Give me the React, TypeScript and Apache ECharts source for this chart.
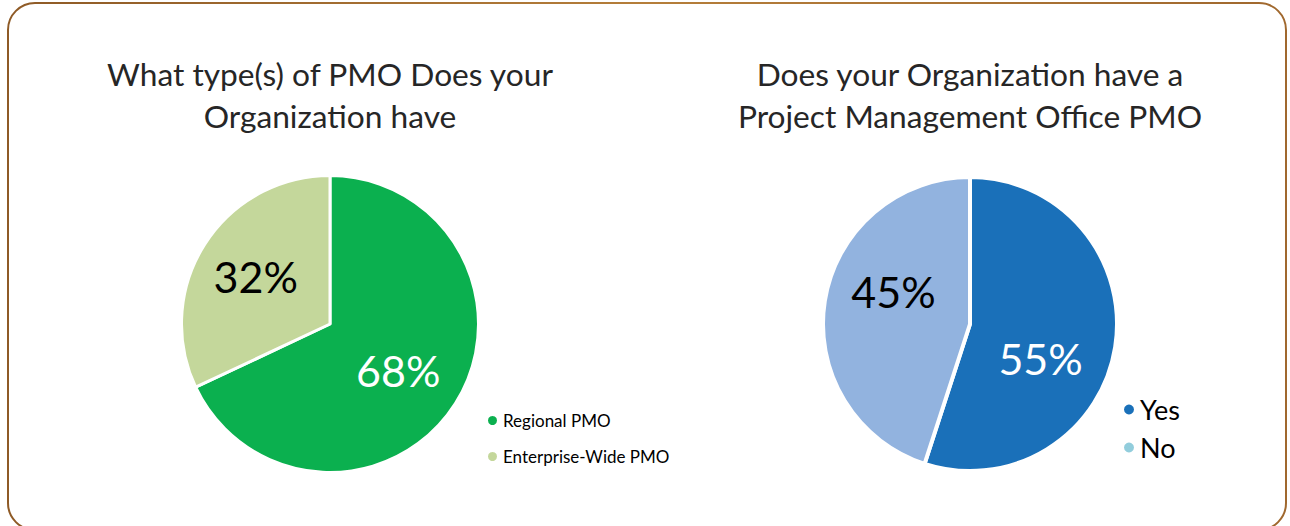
import React, { useEffect, useRef } from "react";
import * as echarts from "echarts";

const leftTitle = "What type(s) of PMO Does your\nOrganization have";
const rightTitle = "Does your Organization have a\nProject Management Office PMO";
const typeNames = ["Regional PMO", "Enterprise-Wide PMO"];
const typeValues = [68, 32];
const hasNames = ["Yes", "No"];
const hasValues = [55, 45];

const FONT = "Lato, 'Open Sans', sans-serif";

export default function App() {
  const ref = useRef<HTMLDivElement>(null);
  useEffect(() => {
    document.body.style.margin = "0";
    const chart = echarts.init(ref.current!, undefined, { renderer: "svg" });
    const typeColors = ["#0BB04F", "#C4D79B"];
    const hasColors = ["#1A70B9", "#92B3DF"];
    const hasLegendColors = ["#1A70B9", "#92CDDC"];
    const typeLabelColors = ["#ffffff", "#000000"];
    const hasLabelColors = ["#ffffff", "#000000"];
    const typeOffsets = [
      [3, 5],
      [-9, -6],
    ];
    const hasOffsets = [
      [-5, 23],
      [-1, -21],
    ];
    chart.setOption({
      animation: false,
      backgroundColor: "#ffffff",
      title: [
        {
          text: leftTitle,
          left: 325,
          top: 48,
          textAlign: "center",
          textStyle: { fontFamily: FONT, fontSize: 31.7, fontWeight: "normal", color: "#262626", lineHeight: 42 },
        },
        {
          text: rightTitle,
          left: 965,
          top: 48,
          textAlign: "center",
          textStyle: { fontFamily: FONT, fontSize: 31.7, fontWeight: "normal", color: "#262626", lineHeight: 42 },
        },
      ],
      legend: [
        {
          orient: "vertical",
          left: 481,
          top: 407,
          icon: "circle",
          itemWidth: 11,
          itemHeight: 11,
          itemGap: 19,
          textStyle: { fontFamily: FONT, fontSize: 17, color: "#000" },
          data: typeNames.map((n, i) => ({ name: n, itemStyle: { color: typeColors[i] } })),
        },
        {
          orient: "vertical",
          left: 1117,
          top: 391,
          icon: "circle",
          itemWidth: 12,
          itemHeight: 12,
          itemGap: 11,
          textStyle: { fontFamily: FONT, fontSize: 27, color: "#000" },
          data: hasNames.map((n, i) => ({ name: n, itemStyle: { color: hasLegendColors[i] } })),
        },
      ],
      series: [
        {
          type: "pie",
          center: [330, 324],
          radius: 148.5,
          startAngle: 90,
          clockwise: true,
          itemStyle: { borderColor: "#ffffff", borderWidth: 3 },
          label: {
            show: true,
            position: "inside",
            formatter: "{c}%",
            fontFamily: FONT,
            fontSize: 43,
          },
          labelLayout: (p: any) => ({ dx: typeOffsets[p.dataIndex][0], dy: typeOffsets[p.dataIndex][1] }),
          emphasis: { disabled: true },
          data: typeNames.map((n, i) => ({
            name: n,
            value: typeValues[i],
            itemStyle: { color: typeColors[i] },
            label: { color: typeLabelColors[i] },
          })),
        },
        {
          type: "pie",
          center: [970, 324],
          radius: 147,
          startAngle: 90,
          clockwise: true,
          itemStyle: { borderColor: "#ffffff", borderWidth: 4 },
          label: {
            show: true,
            position: "inside",
            formatter: "{c}%",
            fontFamily: FONT,
            fontSize: 43,
          },
          labelLayout: (p: any) => ({ dx: hasOffsets[p.dataIndex][0], dy: hasOffsets[p.dataIndex][1] }),
          emphasis: { disabled: true },
          data: hasNames.map((n, i) => ({
            name: n,
            value: hasValues[i],
            itemStyle: { color: hasColors[i] },
            label: { color: hasLabelColors[i] },
          })),
        },
      ],
      graphic: [
        {
          type: "rect",
          shape: { x: 8, y: 3, width: 1278, height: 527, r: 27 },
          silent: true,
          z: -1,
          style: {
            fill: "none",
            lineWidth: 2,
            stroke: {
              type: "linear",
              x: 0,
              y: 0,
              x2: 1,
              y2: 0,
              colorStops: [
                { offset: 0, color: "#8E5A26" },
                { offset: 0.5, color: "#B57E3A" },
                { offset: 1, color: "#A0682E" },
              ],
            },
          },
        },
      ],
    });
    return () => chart.dispose();
  }, []);
  return <div ref={ref} style={{ width: 1290, height: 526 }} />;
}
